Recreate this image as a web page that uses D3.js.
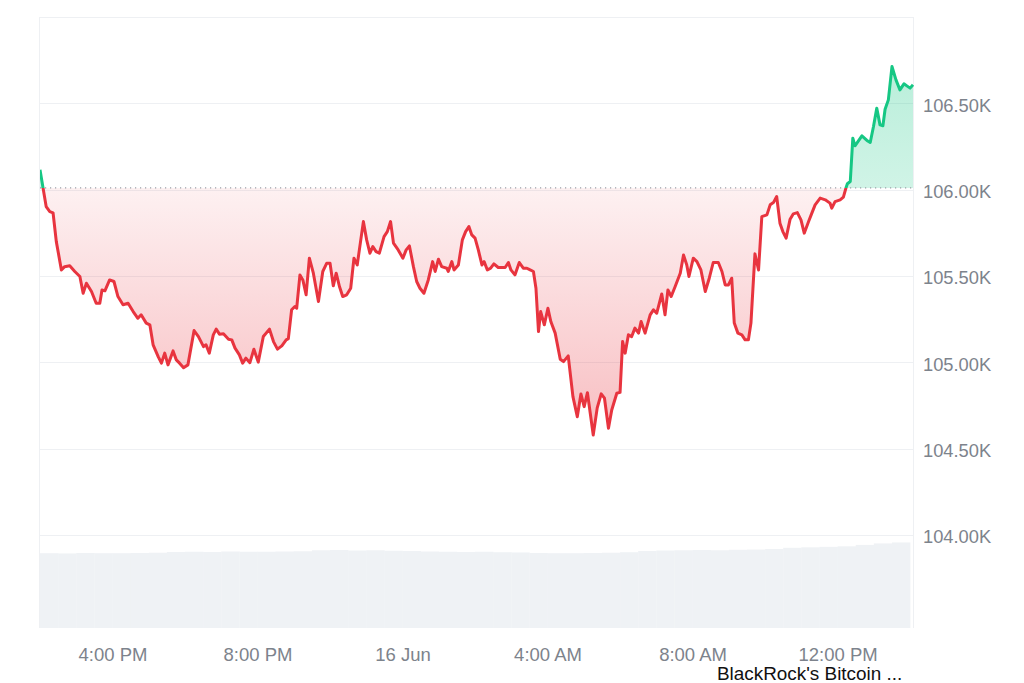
<!DOCTYPE html>
<html><head><meta charset="utf-8">
<script src="https://cdn.jsdelivr.net/npm/d3@7"></script>
<style>
body{margin:0;background:#fff;}
svg{display:block;font-family:"Liberation Sans",Arial,sans-serif;}
</style>
</head><body>
<svg id="chart" width="1024" height="683"></svg>
<script>
// ---- data ----
const startTime = "2025-06-15T14:00";
const hours = [0,0.17,0.27,0.36,0.45,0.59,0.68,0.82,0.96,1.10,
1.19,1.28,1.42,1.55,1.65,1.71,1.79,1.92,2.04,2.15,
2.29,2.43,2.57,2.70,2.79,2.93,3.03,3.12,3.26,3.35,
3.44,3.53,3.67,3.76,3.85,3.96,4.08,4.25,4.37,4.51,
4.58,4.67,4.78,4.86,4.95,5.06,5.20,5.29,5.38,5.50,
5.59,5.68,5.79,5.90,6.02,6.16,6.33,6.44,6.55,6.67,
6.79,6.85,6.94,7.03,7.08,7.17,7.25,7.34,7.43,7.54,
7.68,7.80,7.91,8.00,8.09,8.17,8.26,8.35,8.46,8.57,
8.66,8.75,8.92,9.01,9.10,9.18,9.27,9.36,9.49,9.58,
9.67,9.75,9.88,10.01,10.10,10.19,10.30,10.39,10.48,10.59,
10.71,10.83,10.90,10.99,11.08,11.22,11.26,11.36,11.42,11.54,
11.65,11.74,11.83,11.91,12.00,12.09,12.19,12.25,12.34,12.43,
12.52,12.64,12.83,12.92,12.99,13.10,13.22,13.33,13.43,13.52,
13.61,13.68,13.75,13.81,13.91,14.01,14.09,14.21,14.35,14.44,
14.57,14.70,14.82,14.92,15.01,15.10,15.26,15.37,15.48,15.57,
15.68,15.77,15.91,16.00,16.07,16.14,16.23,16.32,16.41,16.51,
16.58,16.69,16.83,16.92,17.01,17.15,17.24,17.32,17.41,17.52,
17.66,17.75,17.84,17.90,18.02,18.12,18.23,18.35,18.46,18.57,
18.71,18.81,18.90,18.99,19.08,19.15,19.25,19.36,19.45,19.54,
19.61,19.72,19.82,19.91,20.05,20.14,20.23,20.32,20.41,20.49,
20.58,20.69,20.78,20.89,20.99,21.08,21.20,21.29,21.38,21.52,
21.66,21.79,21.84,21.93,22.07,22.16,22.23,22.27,22.35,22.42,
22.48,22.67,22.81,22.90,22.99,23.08,23.17,23.25,23.31,23.40,
23.50,23.61,23.72,23.83,23.91,24.00,24.08];
const prices = [106.115,105.902,105.873,105.866,105.699,105.535,105.554,105.559,105.526,105.497,
105.400,105.458,105.410,105.342,105.342,105.419,105.414,105.477,105.468,105.381,
105.333,105.342,105.294,105.255,105.275,105.227,105.217,105.101,105.033,104.995,
105.053,104.985,105.066,105.014,104.995,104.969,104.985,105.184,105.149,105.091,
105.101,105.053,105.159,105.192,105.163,105.165,105.134,105.130,105.082,105.043,
104.995,105.024,104.998,105.076,105.001,105.149,105.192,105.120,105.076,105.095,
105.130,105.137,105.304,105.323,105.313,105.506,105.477,105.391,105.603,105.516,
105.352,105.526,105.574,105.574,105.443,105.516,105.439,105.381,105.391,105.429,
105.603,105.564,105.815,105.709,105.632,105.670,105.641,105.632,105.728,105.757,
105.815,105.690,105.651,105.603,105.651,105.674,105.554,105.468,105.429,105.400,
105.477,105.583,105.526,105.597,105.554,105.545,105.526,105.583,105.535,105.564,
105.709,105.757,105.786,105.738,105.719,105.651,105.564,105.583,105.535,105.545,
105.570,105.549,105.549,105.578,105.535,105.506,105.578,105.545,105.545,105.535,
105.526,105.429,105.178,105.294,105.217,105.313,105.236,105.169,105.018,105.004,
105.037,104.801,104.685,104.817,104.743,104.824,104.579,104.736,104.817,104.792,
104.618,104.724,104.821,104.826,105.120,105.053,105.159,105.149,105.198,105.169,
105.236,105.169,105.275,105.304,105.284,105.396,105.275,105.419,105.381,105.439,
105.516,105.622,105.564,105.497,105.603,105.583,105.535,105.410,105.487,105.578,
105.578,105.526,105.448,105.448,105.487,105.227,105.169,105.159,105.130,105.130,
105.227,105.628,105.535,105.844,105.854,105.912,105.925,105.960,105.806,105.757,
105.719,105.829,105.860,105.867,105.825,105.748,105.815,105.864,105.912,105.951,
105.941,105.922,105.893,105.931,105.941,105.957,106.009,106.034,106.047,106.298,
106.254,106.312,106.285,106.273,106.366,106.472,106.375,106.370,106.466,106.520,
106.713,106.636,106.578,106.613,106.601,106.588,106.607];
const baselinePrice = 106.01;
// volume (arbitrary units, one bar per half hour)
const volumes = [30.6,30.5,30.7,30.6,30.6,30.7,30.8,31.1,31.2,31.1,31.3,31.2,31.2,31.3,31.4,
31.8,31.9,31.7,31.8,31.6,31.5,31.3,31.2,31.1,31.2,31.0,30.9,30.7,30.6,30.6,30.7,30.8,31.0,
31.5,31.7,31.8,31.9,31.8,32.0,32.1,32.3,32.8,33.0,33.2,33.4,34.0,34.6,35.0];
const yTickValues = [104.0,104.5,105.0,105.5,106.0,106.5];
const yTickLabels = ["104.00K","104.50K","105.00K","105.50K","106.00K","106.50K"];
const gridValues = [104.0,104.5,105.0,105.5,106.0,106.5,107.0];
const xTickTimes = ["2025-06-15T16:00","2025-06-15T20:00","2025-06-16T00:00","2025-06-16T04:00","2025-06-16T08:00","2025-06-16T12:00"];
const xTickLabels = ["4:00 PM","8:00 PM","16 Jun","4:00 AM","8:00 AM","12:00 PM"];
const noteText = "BlackRock's Bitcoin ...";

// ---- layout ----
const L = 40, R = 913, T = 17, B = 628;
const RED = "#e8343f", GREEN = "#16c784";
const t0 = new Date(startTime).getTime();
const toDate = h => new Date(t0 + h * 3600e3);
const data = hours.map((h, i) => ({t: toDate(h), p: prices[i]}));

const svg = d3.select("#chart");
const x = d3.scaleTime().domain([toDate(0), toDate(hours[hours.length - 1])]).range([L, R]);
const y = d3.scaleLinear().domain([103.461, 107.0]).range([B, T]);
const yv = d3.scaleLinear().domain([0, 36]).range([B, 540]);
const yb = y(baselinePrice);

const defs = svg.append("defs");
defs.append("clipPath").attr("id", "above").append("rect")
  .attr("x", L).attr("y", T - 5).attr("width", R - L + 2).attr("height", yb - T + 5);
defs.append("clipPath").attr("id", "below").append("rect")
  .attr("x", L).attr("y", yb).attr("width", R - L + 2).attr("height", B - yb);

const gR = defs.append("linearGradient").attr("id", "gRed")
  .attr("gradientUnits", "userSpaceOnUse").attr("x1", 0).attr("x2", 0)
  .attr("y1", yb).attr("y2", y(d3.min(prices)));
gR.append("stop").attr("offset", 0).attr("stop-color", RED).attr("stop-opacity", 0.07);
gR.append("stop").attr("offset", 1).attr("stop-color", RED).attr("stop-opacity", 0.32);
const gG = defs.append("linearGradient").attr("id", "gGreen")
  .attr("gradientUnits", "userSpaceOnUse").attr("x1", 0).attr("x2", 0)
  .attr("y1", yb).attr("y2", y(d3.max(prices)));
gG.append("stop").attr("offset", 0).attr("stop-color", GREEN).attr("stop-opacity", 0.2);
gG.append("stop").attr("offset", 1).attr("stop-color", GREEN).attr("stop-opacity", 0.3);

// grid
svg.append("g").selectAll("line").data(gridValues).join("line")
  .attr("x1", L).attr("x2", R).attr("y1", d => Math.round(y(d)) + 0.5).attr("y2", d => Math.round(y(d)) + 0.5)
  .attr("stroke", "#eef0f3").attr("stroke-width", 1);
// frame sides
svg.append("line").attr("x1", L - 0.5).attr("x2", L - 0.5).attr("y1", T).attr("y2", B).attr("stroke", "#eef0f3");
svg.append("line").attr("x1", R + 0.5).attr("x2", R + 0.5).attr("y1", T).attr("y2", B).attr("stroke", "#eef0f3");

// volume bars
svg.append("g").selectAll("rect").data(volumes).join("rect")
  .attr("x", (d, i) => x(toDate(i * 0.5)))
  .attr("width", (d, i) => Math.min(x(toDate((i + 1) * 0.5)), R) - x(toDate(i * 0.5)) + 0.3)
  .attr("y", d => yv(d)).attr("height", d => B - yv(d))
  .attr("fill", "#eff2f5");

// areas
const area = d3.area().x(d => x(d.t)).y0(yb).y1(d => y(d.p));
svg.append("path").datum(data).attr("d", area).attr("fill", "url(#gRed)").attr("clip-path", "url(#below)");
svg.append("path").datum(data).attr("d", area).attr("fill", "url(#gGreen)").attr("clip-path", "url(#above)");

// baseline dotted
svg.append("line").attr("x1", L).attr("x2", R).attr("y1", yb).attr("y2", yb)
  .attr("stroke", "#9aa0a8").attr("stroke-width", 1.2).attr("stroke-dasharray", "1.2,3.8");

// lines
const line = d3.line().x(d => x(d.t)).y(d => y(d.p));
svg.append("path").datum(data).attr("d", line).attr("fill", "none").attr("stroke", RED)
  .attr("stroke-width", 3).attr("stroke-linejoin", "round").attr("clip-path", "url(#below)");
svg.append("path").datum(data).attr("d", line).attr("fill", "none").attr("stroke", GREEN)
  .attr("stroke-width", 3).attr("stroke-linejoin", "round").attr("clip-path", "url(#above)");

// y axis (right)
const yAxis = d3.axisRight(y).tickValues(yTickValues).tickSize(0).tickPadding(10)
  .tickFormat((d, i) => yTickLabels[i]);
const gy = svg.append("g").attr("transform", `translate(${R},2)`).call(yAxis);
gy.select(".domain").remove();
gy.selectAll("text").attr("fill", "#7d838c").attr("font-size", 18.3).attr("font-family", "Liberation Sans, Arial, sans-serif");

// x axis
const xAxis = d3.axisBottom(x).tickValues(xTickTimes.map(s => new Date(s))).tickSize(0).tickPadding(20)
  .tickFormat((d, i) => xTickLabels[i]);
const gx = svg.append("g").attr("transform", `translate(0,${B})`).call(xAxis);
gx.select(".domain").remove();
gx.selectAll("text").attr("fill", "#7d838c").attr("font-size", 18.5).attr("font-family", "Liberation Sans, Arial, sans-serif");

// note
svg.append("text").attr("x", 717).attr("y", 680).attr("font-size", 18.9)
  .attr("fill", "#111").text(noteText);
</script>
</body></html>
